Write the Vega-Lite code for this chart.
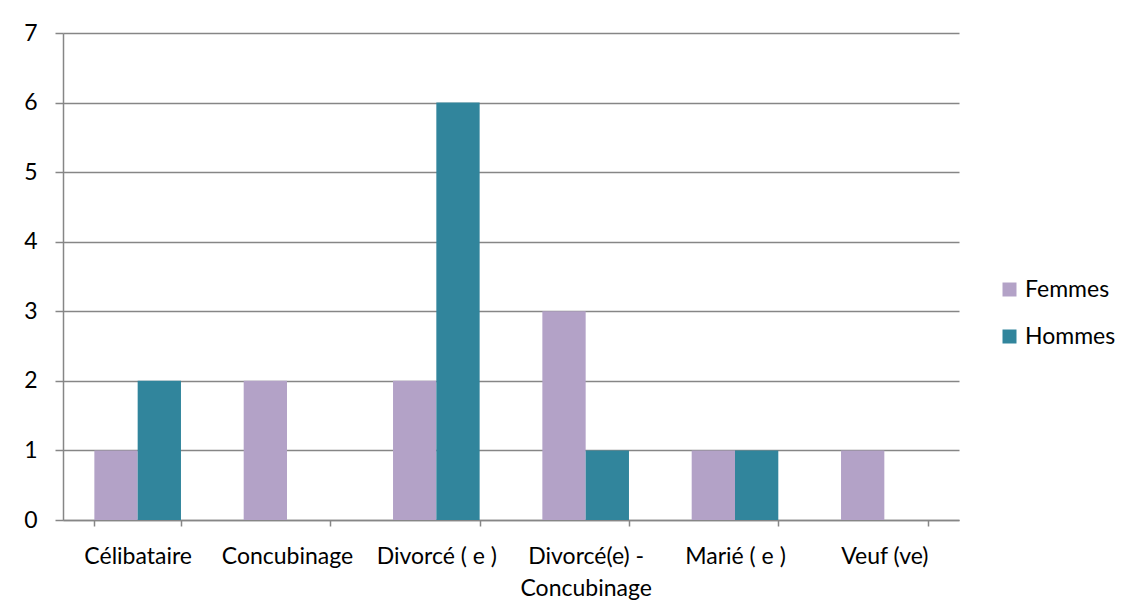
{
  "$schema": "https://vega.github.io/schema/vega-lite/v6.json",
  "width": 896,
  "height": 487,
  "autosize": {"type": "none"},
  "padding": {"left": 63, "top": 33, "right": 178, "bottom": 96},
  "background": "white",
  "config": {
    "view": {"stroke": null},
    "font": "Lato",
    "axis": {"labelFont": "Lato", "labelColor": "#000000", "labelFontSize": 23}
  },
  "data": {
    "values": [
      {"statut": "Célibataire", "sexe": "Femmes", "n": 1},
      {"statut": "Célibataire", "sexe": "Hommes", "n": 2},
      {"statut": "Concubinage", "sexe": "Femmes", "n": 2},
      {"statut": "Concubinage", "sexe": "Hommes", "n": 0},
      {"statut": "Divorcé ( e )", "sexe": "Femmes", "n": 2},
      {"statut": "Divorcé ( e )", "sexe": "Hommes", "n": 6},
      {"statut": "Divorcé(e) - Concubinage", "sexe": "Femmes", "n": 3},
      {"statut": "Divorcé(e) - Concubinage", "sexe": "Hommes", "n": 1},
      {"statut": "Marié ( e )", "sexe": "Femmes", "n": 1},
      {"statut": "Marié ( e )", "sexe": "Hommes", "n": 1},
      {"statut": "Veuf (ve)", "sexe": "Femmes", "n": 1},
      {"statut": "Veuf (ve)", "sexe": "Hommes", "n": 0}
    ]
  },
  "mark": {"type": "bar"},
  "encoding": {
    "x": {
      "field": "statut",
      "type": "nominal",
      "sort": null,
      "title": null,
      "scale": {"paddingInner": 0.42, "paddingOuter": 0.21},
      "axis": {
        "labelAngle": 0,
        "tickBand": "extent",
        "domainColor": "#868686",
        "domainWidth": 1.5,
        "tickColor": "#868686",
        "tickWidth": 1.5,
        "tickSize": 6,
        "labelPadding": 19,
        "labelLineHeight": 32,
        "labelExpr": "datum.label == 'Divorcé(e) - Concubinage' ? ['Divorcé(e) -', 'Concubinage'] : datum.label"
      }
    },
    "xOffset": {"field": "sexe", "type": "nominal", "sort": ["Femmes", "Hommes"]},
    "y": {
      "field": "n",
      "type": "quantitative",
      "title": null,
      "scale": {"domain": [0, 7], "nice": false},
      "axis": {
        "values": [0, 1, 2, 3, 4, 5, 6, 7],
        "grid": true,
        "gridColor": "#868686",
        "gridWidth": 1.5,
        "domainColor": "#868686",
        "domainWidth": 1.5,
        "tickColor": "#868686",
        "tickWidth": 1.5,
        "tickSize": 8,
        "labelPadding": 18,
        "format": "d"
      }
    },
    "color": {
      "field": "sexe",
      "type": "nominal",
      "scale": {"domain": ["Femmes", "Hommes"], "range": ["#B3A2C7", "#31859C"]},
      "legend": {
        "title": null,
        "orient": "none",
        "legendX": 935,
        "legendY": 245,
        "symbolType": "square",
        "symbolSize": 196,
        "symbolStrokeWidth": 0,
        "labelFontSize": 23,
        "labelFont": "Lato",
        "labelColor": "#000000",
        "labelOffset": 4,
        "rowPadding": 23
      }
    }
  }
}
